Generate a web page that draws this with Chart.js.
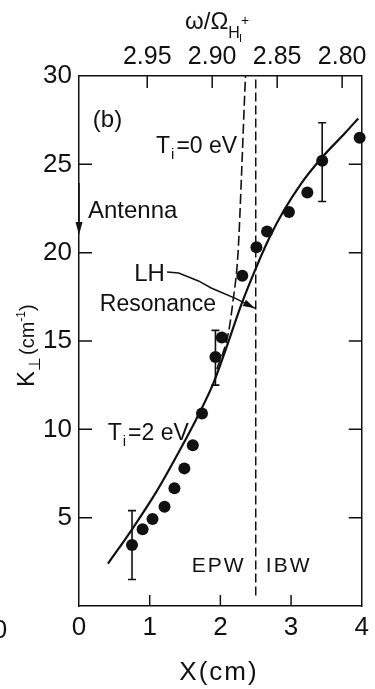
<!DOCTYPE html>
<html>
<head>
<meta charset="utf-8">
<script src="https://cdn.jsdelivr.net/npm/chart.js@4.4.1/dist/chart.umd.min.js"></script>
<style>
	html, body { margin: 0; padding: 0; background: #fff; }
	#mycanvas { display: block; }
</style>
</head>
<body>
<canvas id="mycanvas" width="375" height="689"></canvas>
<script>
// measured points, X in cm, K_perp in cm^-1
var dotX = [0.75, 0.90, 1.04, 1.21, 1.35, 1.49, 1.61, 1.74, 1.93, 2.02, 2.31, 2.51, 2.66, 2.97, 3.23, 3.44, 3.97];
var dotK = [3.45, 4.34, 4.92, 5.62, 6.66, 7.79, 9.1, 10.9, 14.1, 15.2, 18.7, 20.3, 21.2, 22.3, 23.4, 25.2, 26.5];

// error bars
var errX = [0.75, 1.93, 3.44];
var errLo = [1.5, 12.5, 22.9];
var errHi = [5.4, 15.6, 27.35];

// Ti = 2 eV theory (solid)
var warmX = [0.41, 0.76, 1.1, 1.41, 1.7, 1.9, 2.1, 2.3, 2.5, 2.7, 2.9, 3.14, 3.44, 3.77, 3.95];
var warmK = [2.4, 4.4, 6.5, 8.7, 10.9, 12.6, 14.8, 17.1, 19.1, 20.9, 22.4, 23.9, 25.4, 26.8, 27.6];

// Ti = 0 eV theory (dashed)
var coldX = [1.95, 2.11, 2.18, 2.25, 2.3, 2.34, 2.355];
var coldK = [13.4, 15.4, 17.3, 20, 24.5, 28.6, 30];

// LH resonance position
var resX = [2.5, 2.5];
var resK = [0.6, 30];

var xTicks = [0, 1, 2, 3, 4];
var yTicks = [5, 10, 15, 20, 25, 30];
var topTicks = [2.95, 2.90, 2.85, 2.80];

function pts(xs, ys) {
	var out = [];
	for (var i in xs) {
		out.push({x: xs[i], y: ys[i]});
	}
	return out;
}

var FONT = "'Liberation Sans', Arial, sans-serif";
var INK = '#111';

var innerTicks = {
	id: 'innerTicks',
	afterDraw: function(chart) {
		var c = chart.ctx, a = chart.chartArea;
		var x = chart.scales.x, y = chart.scales.y, t = chart.scales.x2;
		c.save();
		c.strokeStyle = INK;
		c.lineWidth = 1.5;
		c.beginPath();
		for (var i in yTicks) {
			if (yTicks[i] >= 30) continue;
			var py = y.getPixelForValue(yTicks[i]);
			c.moveTo(a.left, py); c.lineTo(a.left + 13, py);
			c.moveTo(a.right, py); c.lineTo(a.right - 13, py);
		}
		for (var j in xTicks) {
			if (xTicks[j] == 0 || xTicks[j] == 4) continue;
			var px = x.getPixelForValue(xTicks[j]);
			c.moveTo(px, a.bottom); c.lineTo(px, a.bottom - 11);
		}
		for (var k in topTicks) {
			var pt = t.getPixelForValue(topTicks[k]);
			c.moveTo(pt, a.top); c.lineTo(pt, a.top + 12);
		}
		c.stroke();
		c.restore();
	}
};

var errorBars = {
	id: 'errorBars',
	afterDatasetsDraw: function(chart) {
		var c = chart.ctx, x = chart.scales.x, y = chart.scales.y;
		c.save();
		c.strokeStyle = INK;
		c.lineWidth = 1.6;
		c.beginPath();
		for (var i in errX) {
			var px = x.getPixelForValue(errX[i]);
			var lo = y.getPixelForValue(errLo[i]), hi = y.getPixelForValue(errHi[i]);
			c.moveTo(px, lo); c.lineTo(px, hi);
			c.moveTo(px - 4, lo); c.lineTo(px + 4, lo);
			c.moveTo(px - 4, hi); c.lineTo(px + 4, hi);
		}
		c.stroke();
		c.restore();
	}
};

var notes = {
	id: 'notes',
	afterDraw: function(chart) {
		var c = chart.ctx, x = chart.scales.x, y = chart.scales.y;
		function X(v) { return x.getPixelForValue(v); }
		function Y(v) { return y.getPixelForValue(v); }
		function txt(s, px, py, size, align) {
			c.font = size + 'px ' + FONT;
			c.textAlign = align || 'left';
			c.fillText(s, px, py);
			return c.measureText(s).width;
		}
		c.save();
		c.fillStyle = INK;
		c.strokeStyle = INK;
		c.textBaseline = 'alphabetic';

		txt('(b)', X(0.196), Y(27.1), 24);

		// Ti labels
		var w, px;
		px = X(1.09);
		w = txt('T', px, Y(25.64), 23); px += w;
		w = txt('i', px + 1, Y(25.64) + 6, 15); px += w + 3;
		txt('=0 eV', px, Y(25.64), 23);

		px = X(0.406);
		w = txt('T', px, Y(9.4), 23); px += w;
		w = txt('i', px + 1, Y(9.4) + 6, 15); px += w + 3;
		txt('=2 eV', px, Y(9.4), 23);

		txt('Antenna', X(0.126), Y(21.96), 24);
		txt('LH', X(0.78), Y(18.4), 24);
		txt('Resonance', X(0.294), Y(16.7), 23);

		c.letterSpacing = '2px';
		txt('EPW', X(1.594), Y(1.92), 21);
		txt('IBW', X(2.643), Y(1.92), 21);
		c.letterSpacing = '0px';

		// antenna arrow
		c.lineWidth = 1.5;
		c.beginPath();
		c.moveTo(X(0), Y(23.94)); c.lineTo(X(0), Y(21.6));
		c.stroke();
		c.beginPath();
		c.moveTo(X(0), Y(21.0));
		c.lineTo(X(0) - 3.5, Y(21.0) - 13);
		c.lineTo(X(0) + 3.5, Y(21.0) - 13);
		c.closePath();
		c.fill();

		// LH resonance pointer
		var lx = [1.245, 1.41, 1.69, 1.87, 2.22, 2.49];
		var ly = [18.9, 18.85, 18.4, 18.0, 17.4, 16.85];
		c.beginPath();
		c.moveTo(X(lx[0]), Y(ly[0]));
		for (var i = 1; i < lx.length; i++) c.lineTo(X(lx[i]), Y(ly[i]));
		c.stroke();
		var tx = X(lx[5]), ty = Y(ly[5]);
		var ang = Math.atan2(ty - Y(ly[4]), tx - X(lx[4]));
		c.beginPath();
		c.moveTo(tx, ty);
		c.lineTo(tx - 12 * Math.cos(ang) + 3.5 * Math.sin(ang), ty - 12 * Math.sin(ang) - 3.5 * Math.cos(ang));
		c.lineTo(tx - 12 * Math.cos(ang) - 3.5 * Math.sin(ang), ty - 12 * Math.sin(ang) + 3.5 * Math.cos(ang));
		c.closePath();
		c.fill();

		// top axis title  w / Omega_H+
		px = 185;
		w = txt('\u03c9/\u03a9', px, 29, 24); px += w;
		w = txt('H', px, 38, 16); px += w;
		txt('I', px - 1, 42, 11);
		txt('+', px + 1, 25, 14);

		// bottom axis title
		c.letterSpacing = '2px';
		txt('X(cm)', 219, 680, 26, 'center');
		c.letterSpacing = '0px';

		// cut-off label of neighbour panel
		txt('0', 0, 638, 26, 'center');

		// y axis title, rotated
		c.save();
		c.translate(34, 387);
		c.rotate(-Math.PI / 2);
		px = 0;
		w = txt('K', px, 0, 24); px += w;
		w = txt('\u22a5', px, 6, 16); px += w + 2;
		w = txt('(cm', px, 0, 20); px += w;
		w = txt('-1', px, -9, 12); px += w;
		txt(')', px, 0, 20);
		c.restore();

		c.restore();
	}
};

var ctx = document.getElementById('mycanvas');

var chart = new Chart(ctx, {
	type: 'scatter',
	data: {
		datasets: [
			{
				label: 'data',
				data: pts(dotX, dotK),
				pointRadius: 6,
				pointBackgroundColor: INK,
				pointBorderWidth: 0,
				showLine: false,
				clip: false,
				order: 0
			},
			{
				label: 'Ti=2 eV',
				type: 'line',
				data: pts(warmX, warmK),
				borderColor: INK,
				borderWidth: 2.2,
				pointRadius: 0,
				cubicInterpolationMode: 'monotone',
				fill: false,
				order: 1
			},
			{
				label: 'Ti=0 eV',
				type: 'line',
				data: pts(coldX, coldK),
				borderColor: INK,
				borderWidth: 1.6,
				borderDash: [10, 4],
				pointRadius: 0,
				cubicInterpolationMode: 'monotone',
				fill: false,
				order: 2
			},
			{
				label: 'LH resonance',
				type: 'line',
				data: pts(resX, resK),
				borderColor: INK,
				borderWidth: 1.5,
				borderDash: [9, 4],
				pointRadius: 0,
				fill: false,
				order: 3
			}
		]
	},
	options: {
		responsive: false,
		animation: false,
		devicePixelRatio: 1,
		layout: { padding: 0 },
		plugins: {
			legend: { display: false },
			tooltip: { enabled: false }
		},
		scales: {
			x: {
				type: 'linear',
				position: 'bottom',
				min: 0,
				max: 4,
				afterBuildTicks: function(s) { s.ticks = xTicks.map(function(v) { return {value: v}; }); },
				afterFit: function(s) { s.height = 83; },
				grid: { display: false, drawTicks: false },
				border: { display: true, color: INK, width: 1.5 },
				ticks: { color: INK, font: { family: FONT, size: 26 }, padding: 6, autoSkip: false, maxRotation: 0 }
			},
			x2: {
				type: 'linear',
				position: 'top',
				min: 2.7849,
				max: 3.0025,
				reverse: true,
				afterBuildTicks: function(s) { s.ticks = topTicks.map(function(v) { return {value: v}; }); },
				afterFit: function(s) { s.height = 76; },
				grid: { display: false, drawTicks: false },
				border: { display: true, color: INK, width: 1.5 },
				ticks: {
					color: INK, font: { family: FONT, size: 25 }, padding: 4, autoSkip: false, maxRotation: 0,
					callback: function(v) { return v.toFixed(2); }
				}
			},
			y: {
				type: 'linear',
				position: 'left',
				min: 0,
				max: 30,
				afterBuildTicks: function(s) { s.ticks = yTicks.map(function(v) { return {value: v}; }); },
				afterFit: function(s) { s.width = 79; },
				grid: { display: false, drawTicks: false },
				border: { display: true, color: INK, width: 1.5 },
				ticks: { color: INK, font: { family: FONT, size: 26 }, padding: 7 }
			},
			y2: {
				type: 'linear',
				position: 'right',
				min: 0,
				max: 30,
				afterFit: function(s) { s.width = 10; },
				grid: { display: false, drawTicks: false },
				border: { display: true, color: INK, width: 1.5 },
				ticks: { display: false }
			}
		}
	},
	plugins: [errorBars, innerTicks, notes]
});
</script>
</body>
</html>
